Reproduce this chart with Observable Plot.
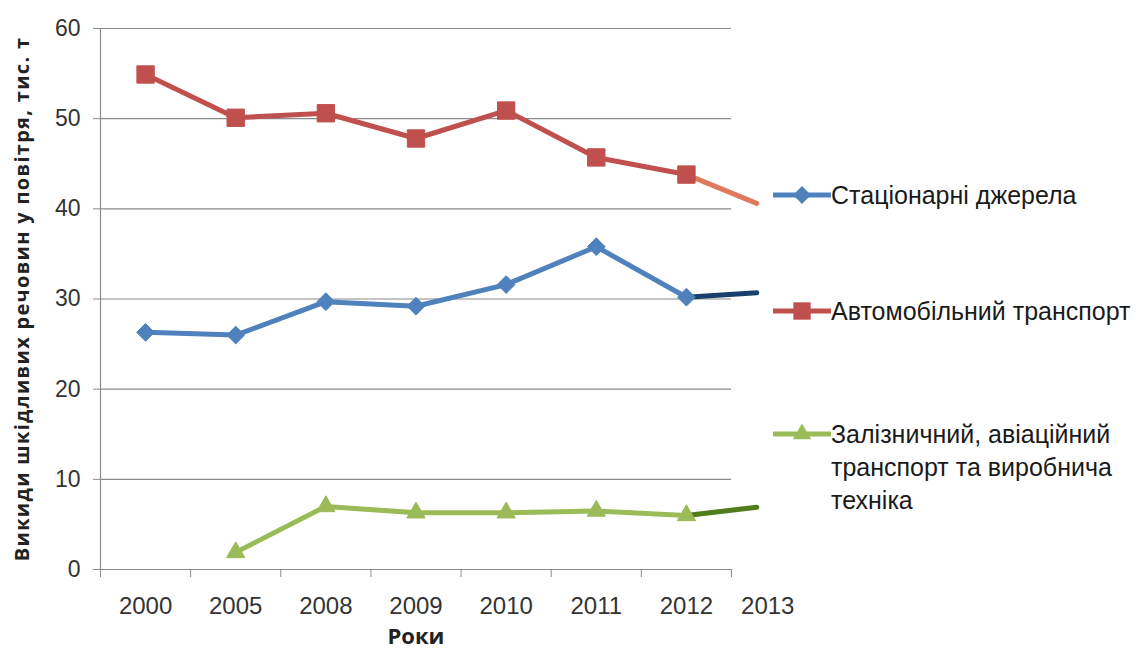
<!DOCTYPE html>
<html>
<head>
<meta charset="utf-8">
<script src="https://cdn.jsdelivr.net/npm/d3@7"></script>
<script src="https://cdn.jsdelivr.net/npm/@observablehq/plot@0.6"></script>
<style>
  body { margin: 0; background: #fff; }
  #chart { position: relative; width: 1141px; height: 654px; }
</style>
</head>
<body>
<div id="chart"></div>
<script>
// Emissions of harmful substances into the air, thousand tonnes
const years = ["2000", "2005", "2008", "2009", "2010", "2011", "2012", "2013"];
// horizontal slot of each year; the 2013 estimate sits just past the end of the axis
const yearSlot = [0, 1, 2, 3, 4, 5, 6, 6.78];
const stationary = [26.3, 26.0, 29.7, 29.2, 31.6, 35.8, 30.2, 30.7];
const road = [54.9, 50.1, 50.6, 47.8, 50.9, 45.7, 43.8, 40.6];
const railAir = [null, 1.9, 7.0, 6.3, 6.3, 6.5, 6.0, 6.9];
const legendLines = [
  ["Стаціонарні джерела"],
  ["Автомобільний транспорт"],
  ["Залізничний, авіаційний", "транспорт та виробнича", "техніка"]
];
const seriesColors = ["#4f81bd", "#c0504d", "#9bbb59"];
const estimateColors = ["#17406d", "#e07a5f", "#4f7d1c"];
const seriesSymbols = ["diamond2", "square", "triangle"];
const symbolRadius = [8, 9.8, 6.8];
const yTicks = [0, 10, 20, 30, 40, 50, 60];
const yTitle = "Викиди шкідливих речовин у повітря, тис. т";
const xTitle = "Роки";

const seriesValues = [stationary, road, railAir];
const lastMeasured = 6; // index of 2012; 2013 is the estimate

const measured = [];
const estimate = [];
seriesValues.forEach((vals, s) => {
  vals.forEach((v, i) => {
    if (v == null) return;
    const row = {series: s, slot: yearSlot[i], year: years[i], value: v};
    if (i <= lastMeasured) measured.push(row);
    if (i >= lastMeasured) estimate.push(row);
  });
});

const gray = "#8a8a8a";
const bandEdges = d3.range(-0.5, 7, 1);
const font = "'Liberation Sans', sans-serif";
const titleFont = "'Open Sans', sans-serif";

const chart = Plot.plot({
  width: 1141,
  height: 654,
  marginLeft: 100,
  marginRight: 410,
  marginTop: 28,
  marginBottom: 85,
  style: {fontFamily: font, background: "#fff", color: "#333"},
  x: {type: "linear", domain: [-0.5, 6.5]},
  y: {domain: [0, 60]},
  marks: [
    Plot.gridY(yTicks, {stroke: gray, strokeOpacity: 1, strokeWidth: 1.2}),
    Plot.ruleX([-0.5], {y1: 0, y2: 60, stroke: gray, strokeWidth: 1.2}),
    Plot.axisY(yTicks, {
      tickSize: 7, tickPadding: 13, fontSize: 23, stroke: gray, fill: "#333", label: null
    }),
    Plot.axisX(bandEdges, {
      tickSize: 8, tickFormat: () => "", stroke: gray, label: null
    }),
    Plot.axisX(yearSlot.slice(0, 7), {
      tickSize: 0, tickPadding: 27, fontSize: 24, fill: "#333",
      tickFormat: (d) => years[yearSlot.indexOf(d)], label: null
    }),
    Plot.axisX([yearSlot[7]], {
      tickSize: 0, tickPadding: 27, fontSize: 24, fill: "#333", dx: 11,
      tickFormat: () => years[7], label: null
    }),
    Plot.line(estimate, {
      x: "slot", y: "value", z: "series",
      stroke: (d) => estimateColors[d.series], strokeWidth: 5, strokeLinecap: "round"
    }),
    Plot.line(measured, {
      x: "slot", y: "value", z: "series",
      stroke: (d) => seriesColors[d.series], strokeWidth: 5, strokeLinejoin: "round"
    }),
    ...[0, 1, 2].map((s) =>
      Plot.dot(measured.filter((d) => d.series === s), {
        x: "slot", y: "value",
        symbol: () => seriesSymbols[s],
        r: symbolRadius[s],
        fill: seriesColors[s], stroke: seriesColors[s], strokeWidth: 1
      })
    ),
    Plot.text([xTitle], {
      frameAnchor: "bottom", dy: 74, fontSize: 22, fontWeight: "bold",
      fill: "#222", fontFamily: titleFont
    }),
    Plot.text([yTitle], {
      frameAnchor: "left", textAnchor: "middle", rotate: -90, dx: -78,
      fontSize: 20, fontWeight: "bold", fill: "#222", fontFamily: titleFont
    })
  ]
});

document.getElementById("chart").appendChild(chart);

// letter spacing of the vertical axis title
d3.select(chart).selectAll("text")
  .filter(function () { return this.textContent === yTitle; })
  .attr("letter-spacing", "1.3px");

// legend on the right of the plot
const svg = d3.select(chart);
const legend = svg.append("g")
  .attr("font-family", font).attr("font-size", 25)
  .attr("fill", "#1a1a1a").attr("text-anchor", "start");
const legendY = [195, 311, 434];
const lineGap = 33;
const symbolGen = {
  diamond2: d3.symbol(d3.symbolDiamond2, Math.PI * symbolRadius[0] ** 2),
  square: d3.symbol(d3.symbolSquare, Math.PI * symbolRadius[1] ** 2),
  triangle: d3.symbol(d3.symbolTriangle, Math.PI * symbolRadius[2] ** 2)
};
legendLines.forEach((lines, s) => {
  const g = legend.append("g").attr("transform", `translate(773,${legendY[s]})`);
  g.append("line").attr("x1", 0).attr("x2", 58).attr("y1", 0).attr("y2", 0)
    .attr("stroke", seriesColors[s]).attr("stroke-width", 5);
  g.append("path").attr("transform", "translate(29,0)")
    .attr("d", symbolGen[seriesSymbols[s]]())
    .attr("fill", seriesColors[s]);
  lines.forEach((t, k) => {
    g.append("text").attr("x", 58).attr("y", k * lineGap).attr("dy", "0.35em").text(t);
  });
});
</script>
</body>
</html>
